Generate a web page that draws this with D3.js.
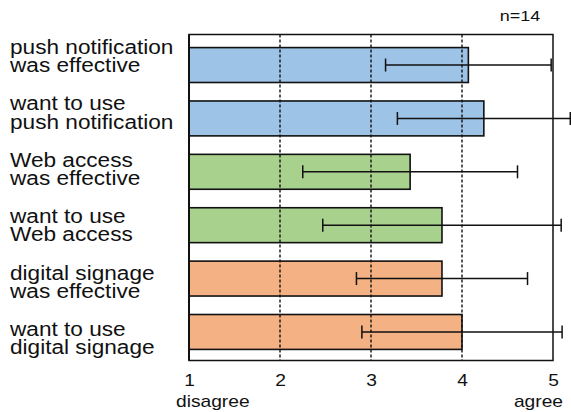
<!DOCTYPE html>
<html>
<head>
<meta charset="utf-8">
<script src="https://cdn.jsdelivr.net/npm/d3@7"></script>
<style>
body { margin: 0; background: #fff; }
text { font-family: "Liberation Sans", Arial, sans-serif; fill: #111; }
</style>
</head>
<body>
<svg width="571" height="412"></svg>
<script>
// questions (two lines each), mean score, std deviation, group
var labels1 = ["push notification", "want to use", "Web access", "want to use", "digital signage", "want to use"];
var labels2 = ["was effective", "push notification", "was effective", "Web access", "was effective", "digital signage"];
var means = [4.07, 4.24, 3.43, 3.78, 3.78, 4.0];
var sds = [0.91, 0.95, 1.18, 1.31, 0.94, 1.1];
var groups = ["push", "push", "web", "web", "signage", "signage"];
var ticks = [1, 2, 3, 4, 5];
var gridTicks = [2, 3, 4];

var colors = {push: "#9DC3E6", web: "#A9D18E", signage: "#F4B183"};
var ids = d3.range(labels1.length);
var sx = 1.2; // text is drawn wide in the original

var svg = d3.select("svg");
var pLeft = 189, pRight = 553, pTop = 34.5, pBottom = 360.5;

var x = d3.scaleLinear().domain([1, 5]).range([pLeft, pRight]);
var y = d3.scaleBand().domain(ids).range([36, 361]).paddingInner(0.346).paddingOuter(0.217);
var yl = d3.scalePoint().domain(ids).range([54, 336]);

// bars
svg.append("g").selectAll("rect")
	.data(ids)
	.enter()
	.append("rect")
		.attr("x", x(1))
		.attr("y", function(i) { return y(i) })
		.attr("width", function(i) { return x(means[i]) - x(1) })
		.attr("height", y.bandwidth())
		.attr("fill", function(i) { return colors[groups[i]] })
		.attr("stroke", "#111")
		.attr("stroke-width", 1.6);

// dashed grid lines
svg.append("g").selectAll("line")
	.data(gridTicks)
	.enter()
	.append("line")
		.attr("x1", function(d) { return x(d) })
		.attr("x2", function(d) { return x(d) })
		.attr("y1", pTop)
		.attr("y2", pBottom)
		.attr("stroke", "#111")
		.attr("stroke-width", 1.4)
		.attr("stroke-dasharray", "3,2");

// frame
svg.append("rect")
	.attr("x", pLeft).attr("y", pTop)
	.attr("width", pRight - pLeft).attr("height", pBottom - pTop)
	.attr("fill", "none")
	.attr("stroke", "#111")
	.attr("stroke-width", 1.5);
svg.append("line")
	.attr("x1", pLeft).attr("x2", pLeft).attr("y1", pTop).attr("y2", pBottom)
	.attr("stroke", "#111").attr("stroke-width", 2);

// error bars
var eb = svg.append("g").attr("stroke", "#111").attr("stroke-width", 1.5);
ids.forEach(function(i) {
	var cy = y(i) + y.bandwidth() / 2;
	var lo = x(means[i] - sds[i]), hi = x(means[i] + sds[i]);
	eb.append("line").attr("x1", lo).attr("x2", hi).attr("y1", cy).attr("y2", cy);
	eb.append("line").attr("x1", lo).attr("x2", lo).attr("y1", cy - 6.5).attr("y2", cy + 6.5);
	eb.append("line").attr("x1", hi).attr("x2", hi).attr("y1", cy - 6.5).attr("y2", cy + 6.5);
});

// x axis
var ax = svg.append("g")
	.attr("transform", "translate(0," + pBottom + ")")
	.call(d3.axisBottom(x).tickValues(ticks).tickFormat(d3.format("d")).tickSize(0).tickPadding(14));
ax.select(".domain").remove();
ax.selectAll("text")
	.attr("font-size", 16)
	.attr("font-family", "Liberation Sans, Arial, sans-serif")
	.attr("fill", "#111")
	.attr("transform", "scale(" + sx + ",1)");

function wideText(str, px, py, size, anchor) {
	return svg.append("text")
		.attr("transform", "translate(" + px + "," + py + ") scale(" + sx + ",1)")
		.attr("font-size", size)
		.attr("text-anchor", anchor)
		.text(str);
}

// category labels, two lines in one text
ids.forEach(function(i) {
	var t = svg.append("text")
		.attr("transform", "translate(10," + yl(i) + ") scale(1.16,1)")
		.attr("font-size", 19.5);
	t.append("tspan").attr("x", 0).attr("y", 0).text(labels1[i]);
	t.append("tspan").attr("x", 0).attr("y", 18.3).text(labels2[i]);
});

wideText("disagree", 176, 406.5, 16, "start");
wideText("agree", 563, 406.5, 16, "end");
wideText("n=14", 520, 21, 15, "middle");
</script>
</body>
</html>
